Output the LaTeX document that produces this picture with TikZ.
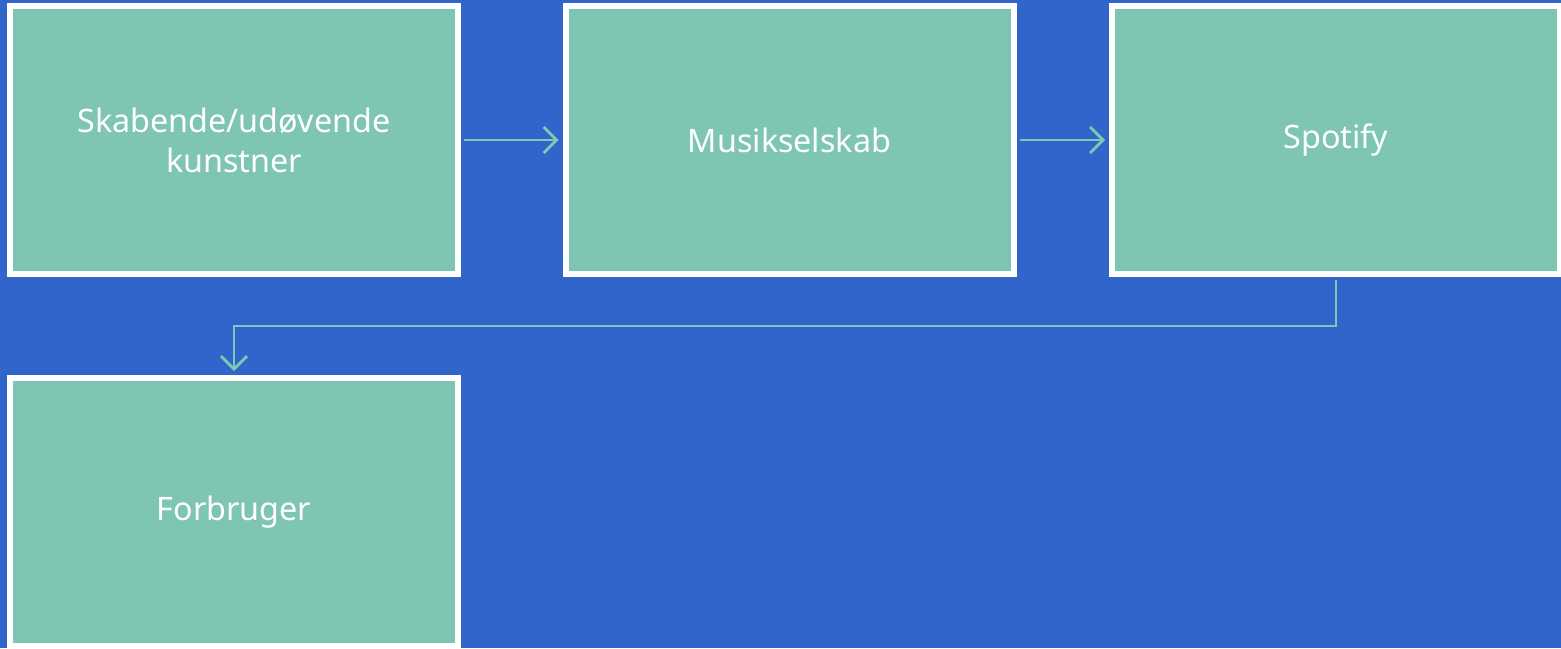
\documentclass[tikz,border=0pt]{standalone}
\usepackage{fontspec}
\setmainfont[RawFeature=-liga]{Noto Sans}
\usetikzlibrary{arrows.meta,calc}
\definecolor{bgblue}{HTML}{3165CB}
\definecolor{boxgreen}{HTML}{7FC5B3}
\definecolor{linegreen}{HTML}{7CCBAE}
\tikzset{
  stagebox/.style={draw=white, line width=6pt, fill=boxgreen, minimum width=448pt, minimum height=268pt, inner sep=0pt, text=white, align=center, font=\fontsize{32.3}{40}\selectfont},
  flow/.style={draw=linegreen, line width=2.8pt, -{Straight Barb[length=13pt, width=26pt, line width=2.8pt]}}
}
\begin{document}
\begin{tikzpicture}[x=1pt, y=-1pt]
\fill[bgblue] (0,0) rectangle (1561,648);
\useasboundingbox (0,0) rectangle (1561,648);
\node[stagebox] (a) at (234,140) {Skabende/udøvende\\kunstner};
\node[stagebox] (b) at (789.5,140) {Musikselskab};
\node[stagebox] (c) at (1336,140) {Spotify};
\node[stagebox] (d) at (234,512) {Forbruger};
\coordinate (bend) at (1336,326);
\draw[flow] ($(a.east)+(3,0)$) -- ($(b.west)+(-4,0)$);
\draw[flow] ($(b.east)+(3,0)$) -- ($(c.west)+(-4,0)$);
\draw[flow] ($(c.south)+(0,3)$) -- (bend) -| ($(d.north)+(0,-4)$);
\end{tikzpicture}
\end{document}
